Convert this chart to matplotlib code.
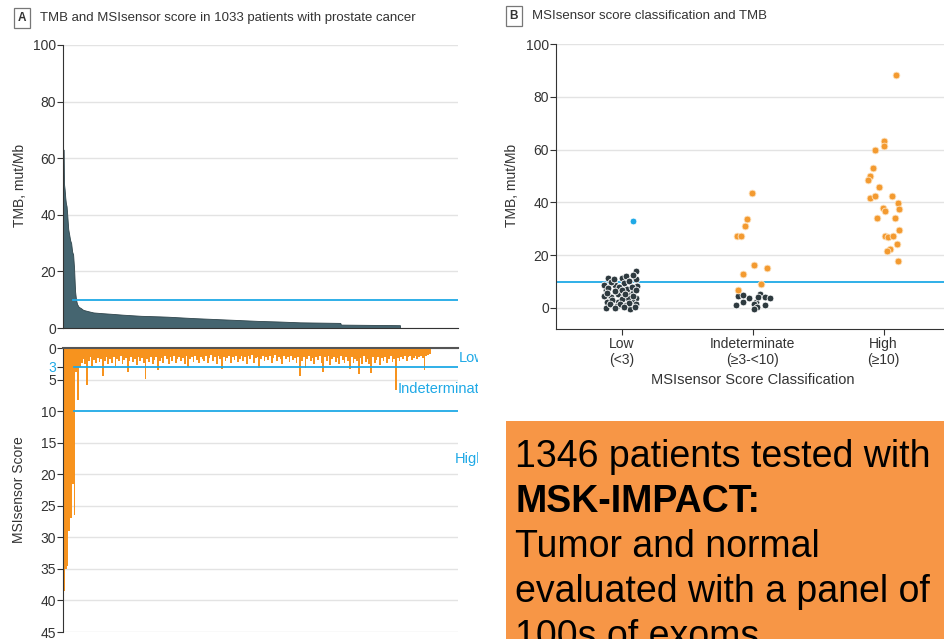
import numpy as np
import matplotlib
matplotlib.use("Agg")
from matplotlib import pyplot as plt
from matplotlib.patches import Rectangle
from matplotlib import font_manager

# ---- data ----
# panel A top: TMB sorted, at patient rank
tmb_rank = [0, 2, 3, 5, 7, 9, 11, 13, 16, 19, 22, 25, 28, 31, 34, 37, 40, 43, 48, 55,
            62, 75, 93, 113, 150, 184, 240, 297, 320, 400, 460, 521, 600, 660, 727,
            790, 850, 852, 940, 1033]
tmb_value = [63, 63, 51, 49, 46, 44, 43, 40, 35, 33, 31, 30, 27, 26, 21, 13, 10, 8.5, 7.5, 7,
             6.4, 6, 5.5, 5.3, 5.0, 4.7, 4.3, 4.1, 4.0, 3.5, 3.2, 2.9, 2.5, 2.3, 2.0,
             1.9, 1.8, 1.2, 1.1, 1.0]

# panel A bottom: MSIsensor score, bins of 5 patients in the same order
msi_bins = [
    38.5, 35, 34.5, 29, 27, 21.5, 26.5, 3.8, 8.2, 3.0, 2.4, 1.8, 2.6, 5.8, 2.1, 1.5, 2.8, 1.9, 2.4, 1.6,
    2.2, 1.7, 4.5, 2.0, 1.4, 2.6, 1.8, 2.3, 1.5, 2.9, 1.7, 2.1, 1.3, 2.5, 1.9, 1.6, 3.8, 2.0, 1.4, 2.2,
    1.8, 2.7, 1.5, 2.0, 1.6, 2.4, 4.9, 1.7, 2.2, 1.4, 2.6, 1.9, 1.5, 3.5, 2.1, 1.6, 2.3, 1.3, 1.8, 2.5,
    1.5, 2.0, 1.2, 2.4, 1.7, 1.4, 2.1, 1.6, 2.6, 1.3, 3.0, 1.8, 1.5, 2.2, 1.2, 1.9, 2.4, 1.4, 1.7, 2.0,
    1.3, 2.3, 1.6, 1.1, 2.0, 1.5, 2.5, 1.2, 1.8, 3.3, 1.4, 2.1, 1.6, 1.2, 2.4, 1.5, 1.9, 1.3, 2.2, 1.7,
    1.2, 2.0, 1.5, 2.6, 1.3, 1.8, 1.1, 2.3, 1.6, 1.4, 3.2, 1.7, 1.2, 2.1, 1.5, 1.9, 1.3, 2.4, 1.6, 1.1,
    2.0, 1.4, 1.8, 2.5, 1.2, 1.7, 1.5, 2.2, 1.3, 1.9, 1.6, 2.4, 1.4, 4.4, 2.0, 1.5, 3.2, 1.8, 1.3, 2.1,
    1.6, 2.6, 1.4, 1.9, 1.2, 2.3, 3.8, 1.5, 2.0, 1.3, 2.7, 1.7, 1.4, 2.2, 1.6, 2.5, 1.3, 1.9, 2.3, 1.5,
    2.0, 3.3, 1.4, 2.4, 1.7, 2.1, 4.1, 1.6, 2.5, 1.3, 2.2, 1.8, 2.6, 4.0, 1.5, 2.3, 1.9, 1.4, 2.7, 1.6,
    2.1, 1.5, 2.4, 1.8, 1.3, 2.2, 1.7, 6.6, 1.6, 2.0, 1.4, 1.8, 1.2, 2.1, 1.5, 1.3, 1.9, 1.6, 1.2, 1.7,
    1.4, 1.2, 1.6, 3.5, 1.3, 1.1, 1.0]
bin_size = 5

# panel B: category, jitter offset, TMB
categories = ["Low\n(<3)", "Indeterminate\n(\u22653-<10)", "High\n(\u226510)"]

low_dx = [-0.104, -0.046, 0.0, 0.036, 0.107, 0.107, 0.12, -0.122, -0.079, -0.028, 0.018, 0.061,
          0.091, 0.112, -0.112, -0.028, 0.036, 0.081, 0.114, -0.117, -0.033, 0.066, -0.08, -0.06,
          0.02, 0.06, 0.09, -0.13, -0.1, -0.02, 0.04, 0.08, -0.05, 0.0, -0.13, 0.05, -0.07, 0.0,
          0.09, -0.09, -0.01, 0.06, 0.1, -0.05, 0.02, 0.11, -0.11, 0.03]
low_tmb = [11.5, 8.6, 11.5, 12.0, 14.0, 10.8, 8.2, 6.7, 4.2, 5.4, 4.8, 6.1,
           5.7, 3.8, 2.3, 2.3, 1.0, 2.5, 1.6, 0.1, 0.6, -0.3, 9.8, 11.0,
           9.5, 10.2, 12.3, 8.5, 7.5, 7.8, 7.2, 8.0, 6.3, 6.6, 4.6, 3.8, 3.0, 3.3,
           4.6, 1.3, 1.5, 1.9, 0.4, -0.1, 0.2, 6.7, 5.6, 5.4]
low_outlier_dx = [0.086]
low_outlier_tmb = [33.0]

ind_dark_dx = [-0.125, -0.074, -0.112, -0.028, 0.028, 0.015, 0.036, 0.01, 0.058, 0.041, 0.099, 0.13, 0.094, -0.074]
ind_dark_tmb = [1.0, 2.3, 4.5, 3.8, 2.3, 1.4, 0.4, -0.3, 5.4, 4.2, 4.2, 3.8, 1.0, 4.8]
ind_hi_dx = [-0.005, -0.04, -0.06, -0.12, -0.09, 0.015, 0.11, -0.07, 0.066, -0.11]
ind_hi_tmb = [43.4, 33.5, 31.1, 27.2, 27.3, 16.2, 15.2, 13.0, 9.0, 6.7]

high_dx = [0.097, 0.0, 0.003, -0.064, -0.081, -0.10, -0.12, -0.038, -0.10, -0.064, 0.066, 0.11,
           0.115, -0.005, 0.008, -0.05, 0.09, 0.12, 0.008, 0.033, 0.07, 0.104, 0.046, 0.028, 0.11]
high_tmb = [88.2, 63.3, 61.3, 59.8, 53.2, 49.9, 48.4, 45.9, 41.7, 42.5, 42.5, 39.6,
            37.4, 37.7, 36.8, 33.9, 33.9, 29.5, 27.3, 26.9, 27.3, 24.4, 22.3, 21.5, 17.8]

# ---- styling ----
CYAN = "#1fa9e6"
ORANGE = "#f7931e"
TEAL = "#456570"
DARK = "#333333"
GRID = "#e3e3e3"

# narrow font if the system has one, else plain Liberation Sans
names = {f.name for f in font_manager.fontManager.ttflist}
if "Liberation Sans Narrow" in names:
    plt.rcParams["font.family"] = ["Liberation Sans Narrow", "DejaVu Sans"]
else:
    plt.rcParams["font.family"] = ["Liberation Sans", "DejaVu Sans"]
plt.rcParams["axes.edgecolor"] = DARK
plt.rcParams["xtick.color"] = DARK
plt.rcParams["ytick.color"] = DARK

W, H = 944, 639
fig = plt.figure(figsize=(W / 100, H / 100), dpi=100)


def px(x0, y0, x1, y1):
    # figure-pixel box (top-left origin) -> axes rect
    return [x0 / W, 1 - y1 / H, (x1 - x0) / W, (y1 - y0) / H]


# ---- panel A, top ----
ax1 = fig.add_axes(px(63, 45, 458, 328))
ax1.fill_between(tmb_rank, 0, tmb_value, color=TEAL, lw=0.6, edgecolor="#2f454c")
ax1.axhline(10, color=CYAN, lw=1.3, xmin=30 / 1211)
ax1.set_xlim(0, 1211)
ax1.set_ylim(0, 100)
ax1.set_yticks([0, 20, 40, 60, 80, 100])
ax1.yaxis.grid(True, color=GRID, lw=1)
ax1.set_axisbelow(True)
ax1.set_xticks([])
for s in ["top", "right"]:
    ax1.spines[s].set_visible(False)
ax1.tick_params(axis="y", length=4, width=0.8, labelsize=10, pad=1)

# ---- panel A, bottom ----
ax2 = fig.add_axes(px(63, 348, 458, 632))
msi_x = np.arange(len(msi_bins)) * bin_size
ax2.bar(msi_x, msi_bins, width=bin_size, align="edge", color=ORANGE, lw=0)
ax2.axhline(3, color=CYAN, lw=1.3, xmin=30 / 1112)
ax2.axhline(10, color=CYAN, lw=1.3, xmin=30 / 1112)
ax2.set_xlim(0, 1112)
ax2.set_ylim(45, 0)
ax2.set_yticks([0, 3, 5, 10, 15, 20, 25, 30, 35, 40, 45])
ax2.yaxis.grid(True, color=GRID, lw=1)
ax2.set_axisbelow(True)
ax2.set_xticks([])
for s in ["bottom", "right"]:
    ax2.spines[s].set_visible(False)
ax2.spines["top"].set_color("#555555")
ax2.spines["top"].set_linewidth(1.5)
ax2.tick_params(axis="y", length=4, width=0.8, labelsize=10, pad=1)
ax2.get_yticklabels()[1].set_color(CYAN)
ax2.get_ygridlines()[1].set_visible(False)
ax2.get_ygridlines()[3].set_visible(False)

clip = Rectangle((0, 0), 478 / W, 1, transform=fig.transFigure)
for lab, xx, yy in [("Low", 1115, 1.6), ("Indeterminate", 943, 6.5), ("High", 1103, 17.6)]:
    t = ax2.text(xx, yy, lab, color=CYAN, fontsize=10.5, va="center", ha="left", clip_on=True)
    t.set_clip_path(clip)

# ---- panel B ----
ax3 = fig.add_axes(px(556, 44, 949, 329))
ax3.scatter(np.add(0, low_dx), low_tmb, s=24, color="#2e3a3f", edgecolor="white", lw=0.6, zorder=3)
ax3.scatter(np.add(0, low_outlier_dx), low_outlier_tmb, s=24, color=CYAN, edgecolor="white", lw=0.6, zorder=3)
ax3.scatter(np.add(1, ind_dark_dx), ind_dark_tmb, s=24, color="#2e3a3f", edgecolor="white", lw=0.6, zorder=3)
ax3.scatter(np.add(1, ind_hi_dx), ind_hi_tmb, s=24, color="#f39a30", edgecolor="#fde3c0", lw=0.6, zorder=3)
ax3.scatter(np.add(2, high_dx), high_tmb, s=24, color="#f39a30", edgecolor="#fde3c0", lw=0.6, zorder=3)
ax3.axhline(10, color=CYAN, lw=1.3, zorder=2)
ax3.set_xlim(-0.5, 2.5)
ax3.set_ylim(-8, 100)
ax3.set_yticks([0, 20, 40, 60, 80, 100])
ax3.set_xticks([0, 1, 2])
ax3.set_xticklabels(categories, fontsize=10, linespacing=1.15)
ax3.yaxis.grid(True, color=GRID, lw=1)
ax3.set_axisbelow(True)
for s in ["top", "right"]:
    ax3.spines[s].set_visible(False)
ax3.tick_params(axis="y", length=4, width=0.8, labelsize=10, pad=1)
ax3.tick_params(axis="x", length=4, width=0.8, pad=2)

# ---- labels and titles ----
fig.text(20 / W, 1 - 185 / H, "TMB, mut/Mb", rotation=90, ha="center", va="center", fontsize=10, color=DARK)
fig.text(19 / W, 1 - 490 / H, "MSIsensor Score", rotation=90, ha="center", va="center", fontsize=10, color=DARK)
fig.text(512 / W, 1 - 185 / H, "TMB, mut/Mb", rotation=90, ha="center", va="center", fontsize=10, color=DARK)
fig.text(753 / W, 1 - 380 / H, "MSIsensor Score Classification", ha="center", va="center", fontsize=10.5, color=DARK)

box = dict(boxstyle="square,pad=0.3", fc="white", ec="#777777", lw=0.9)
fig.text(22 / W, 1 - 18 / H, "A", ha="center", va="center", fontsize=8.5, fontweight="bold", color=DARK, bbox=box)
fig.text(40 / W, 1 - 18 / H, "TMB and MSIsensor score in 1033 patients with prostate cancer",
         ha="left", va="center", fontsize=9.5, color=DARK)
fig.text(514 / W, 1 - 16 / H, "B", ha="center", va="center", fontsize=8.5, fontweight="bold", color=DARK, bbox=box)
fig.text(532 / W, 1 - 16 / H, "MSIsensor score classification and TMB",
         ha="left", va="center", fontsize=9.5, color=DARK)

# ---- orange note box ----
fig.patches.append(Rectangle((506 / W, 0), 1 - 506 / W, (H - 421) / H, transform=fig.transFigure,
                             facecolor="#f79646", edgecolor="none", zorder=5))
note = [("1346 patients tested with", "normal", 466.7),
        ("MSK-IMPACT:", "bold", 511.7),
        ("Tumor and normal", "normal", 556.7),
        ("evaluated with a panel of", "normal", 601.7),
        ("100s of exoms", "normal", 646.7)]
for txt, wt, base in note:
    fig.text(515 / W, 1 - base / H, txt, ha="left", va="baseline", fontsize=27, fontweight=wt,
             family="Liberation Sans", color="black", zorder=6)

plt.savefig("out.png", dpi=100)
